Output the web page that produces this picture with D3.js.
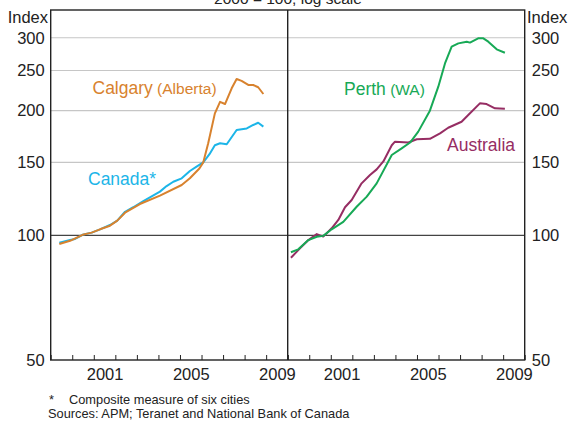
<!DOCTYPE html>
<html>
<head>
<meta charset="utf-8">
<script src="https://cdn.jsdelivr.net/npm/d3@7"></script>
<style>
  body { margin: 0; background: #fff; }
  svg { font-family: "Liberation Sans", Arial, sans-serif; }
</style>
</head>
<body>
<div id="chart"></div>
<script>
// Data (decimal year, index 2000 = 100)
const calgary = [
  [1999.40, 95.3], [1999.90, 97], [2000.48, 100.3], [2000.90, 101.5], [2001.29, 103.4],
  [2001.75, 105.5], [2002.09, 108.5], [2002.45, 113.4], [2003.14, 119], [2004.07, 124.7],
  [2005.08, 132.3], [2005.46, 137.3], [2005.90, 145], [2006.08, 150], [2006.31, 166.8],
  [2006.62, 197], [2006.86, 210], [2007.09, 207.5], [2007.40, 226.5], [2007.63, 238.5],
  [2007.86, 236], [2008.17, 230.7], [2008.40, 230.7], [2008.63, 227.8], [2008.87, 219.4]
];
const canada = [
  [1999.40, 96.0], [1999.90, 97.4], [2000.13, 98], [2000.48, 100.3], [2000.90, 101.5],
  [2001.29, 103.4], [2001.75, 105.9], [2002.09, 108.5], [2002.45, 114], [2002.83, 116.9],
  [2003.30, 121], [2004.07, 127.5], [2004.38, 131.5], [2004.69, 134.7], [2005.08, 137.3],
  [2005.46, 143], [2005.77, 146.5], [2006.08, 150], [2006.37, 157], [2006.62, 165],
  [2006.86, 166.8], [2007.17, 165.9], [2007.63, 179.6], [2008.10, 181.2], [2008.40, 184.7],
  [2008.63, 187], [2008.87, 183]
];
const perth = [
  [1999.15, 91], [1999.49, 92.5], [1999.96, 97.4], [2000.35, 99.2], [2000.65, 99.7],
  [2001.04, 103.4], [2001.58, 107.8], [2002.20, 117.2], [2002.67, 124], [2003.13, 133.5],
  [2003.83, 156.3], [2004.29, 162.2], [2004.68, 167.5], [2005.06, 178], [2005.60, 200],
  [2005.99, 228.5], [2006.30, 260], [2006.61, 285.4], [2006.92, 290.7], [2007.31, 293.5],
  [2007.46, 292], [2007.84, 299], [2008.08, 299], [2008.31, 293.5], [2008.70, 281.3],
  [2009.08, 276]
];
const australia = [
  [1999.15, 88.3], [1999.57, 93], [1999.96, 97.4], [2000.35, 100.7], [2000.65, 99.3],
  [2001.04, 104], [2001.35, 108.9], [2001.66, 116.9], [2001.97, 121.7], [2002.43, 133.5],
  [2002.82, 139.9], [2003.13, 144.3], [2003.44, 150.8], [2003.83, 165], [2003.98, 168.3],
  [2004.60, 167.6], [2004.99, 170.6], [2005.60, 171], [2006.07, 176.3], [2006.45, 181.9],
  [2007.07, 188], [2007.38, 195.2], [2007.92, 208.3], [2008.23, 207.5], [2008.62, 202.6],
  [2009.08, 202]
];
const yTicks = [50, 100, 150, 200, 250, 300];
const yearTicks = d3.range(1999, 2011);
const yearLabels = [2001, 2005, 2009];

const width = 571, height = 424;
const plotTop = 10, plotBottom = 360;
const plotLeft = 50.7, plotMid = 287.7, plotRight = 524.7;

const svg = d3.select('#chart').append('svg')
  .attr('width', width)
  .attr('height', height);

const y = d3.scaleLog().domain([50, 350]).range([plotBottom, plotTop]);
const xLeft = d3.scaleLinear().domain([1999, 2010]).range([plotLeft, plotMid]);
const xRight = d3.scaleLinear().domain([1999, 2010]).range([plotMid, plotRight]);

// Title (cut off at top, as in the original)
svg.append('text')
  .attr('x', 288).attr('y', 4)
  .attr('text-anchor', 'middle')
  .attr('font-size', 15.5)
  .attr('fill', '#222')
  .text('2000 = 100, log scale');

// Gridlines
svg.append('g')
  .selectAll('line')
  .data(yTicks.filter(d => d > 50))
  .enter().append('line')
  .attr('x1', plotLeft).attr('x2', plotRight)
  .attr('y1', d => y(d)).attr('y2', d => y(d))
  .attr('stroke', d => d === 100 ? '#444' : '#c6c6c6')
  .attr('stroke-width', 1.1);

// Y axes
const yLeftAxis = d3.axisLeft(y).tickValues(yTicks).tickSize(0).tickPadding(6).tickFormat(d3.format('d'));
const yRightAxis = d3.axisRight(y).tickValues(yTicks).tickSize(0).tickPadding(7).tickFormat(d3.format('d'));

const gl = svg.append('g').attr('transform', `translate(${plotLeft},0)`).call(yLeftAxis);
const gr = svg.append('g').attr('transform', `translate(${plotRight},0)`).call(yRightAxis);
[gl, gr].forEach(g => {
  g.select('.domain').remove();
  g.selectAll('text').attr('font-size', 16.5).attr('fill', '#222')
    .attr('font-family', '"Liberation Sans", Arial, sans-serif');
});

svg.append('text').attr('x', 48).attr('y', 23).attr('text-anchor', 'end')
  .attr('font-size', 16.5).attr('fill', '#222').text('Index');
svg.append('text').attr('x', 527).attr('y', 23)
  .attr('font-size', 16.5).attr('fill', '#222').text('Index');

// X axes: year ticks and labels centred within each year
[xLeft, xRight].forEach(x => {
  const ticks = d3.axisBottom(x).tickValues(yearTicks).tickSize(-5).tickFormat('');
  const g = svg.append('g').attr('transform', `translate(0,${plotBottom})`).call(ticks);
  g.select('.domain').remove();
  g.selectAll('line').attr('stroke', '#222');

  const labels = d3.axisBottom(x).tickValues(yearLabels.map(d => d + 0.5))
    .tickSize(0).tickPadding(8).tickFormat(d => Math.floor(d));
  const gl2 = svg.append('g').attr('transform', `translate(0,${plotBottom})`).call(labels);
  gl2.select('.domain').remove();
  gl2.selectAll('text').attr('font-size', 16.5).attr('fill', '#222')
    .attr('font-family', '"Liberation Sans", Arial, sans-serif');
});

// Frame
const frame = svg.append('g').attr('stroke', '#222').attr('stroke-width', 1.4).attr('fill', 'none');
frame.append('rect').attr('x', plotLeft).attr('y', plotTop)
  .attr('width', plotRight - plotLeft).attr('height', plotBottom - plotTop);
frame.append('line').attr('x1', plotMid).attr('x2', plotMid).attr('y1', plotTop).attr('y2', plotBottom);

// Lines
const series = [
  { data: canada, x: xLeft, color: '#1cb5e8' },
  { data: calgary, x: xLeft, color: '#d8822e' },
  { data: australia, x: xRight, color: '#962d63' },
  { data: perth, x: xRight, color: '#17a956' }
];
series.forEach(s => {
  const line = d3.line()
    .x(d => s.x(d[0]))
    .y(d => y(d[1]));
  svg.append('path')
    .datum(s.data)
    .attr('d', line)
    .attr('fill', 'none')
    .attr('stroke', s.color)
    .attr('stroke-width', 2)
    .attr('stroke-linejoin', 'round');
});

// Series labels
function label(x, yy, main, sub, color) {
  const t = svg.append('text').attr('x', x).attr('y', yy).attr('fill', color).attr('font-size', 17.5);
  t.append('tspan').text(main);
  if (sub) t.append('tspan').attr('font-size', 15.5).text(' ' + sub);
}
label(92.5, 94, 'Calgary', '(Alberta)', '#d8822e');
label(88, 185, 'Canada*', null, '#1cb5e8');
label(344, 95, 'Perth', '(WA)', '#17a956');
label(447, 151, 'Australia', null, '#962d63');

// Footnotes
svg.append('text').attr('x', 49).attr('y', 404).attr('font-size', 12.8).attr('fill', '#222').text('*');
svg.append('text').attr('x', 69).attr('y', 404).attr('font-size', 12.8).attr('fill', '#222')
  .text('Composite measure of six cities');
svg.append('text').attr('x', 48).attr('y', 418).attr('font-size', 12.8).attr('fill', '#222')
  .text('Sources: APM; Teranet and National Bank of Canada');
</script>
</body>
</html>
